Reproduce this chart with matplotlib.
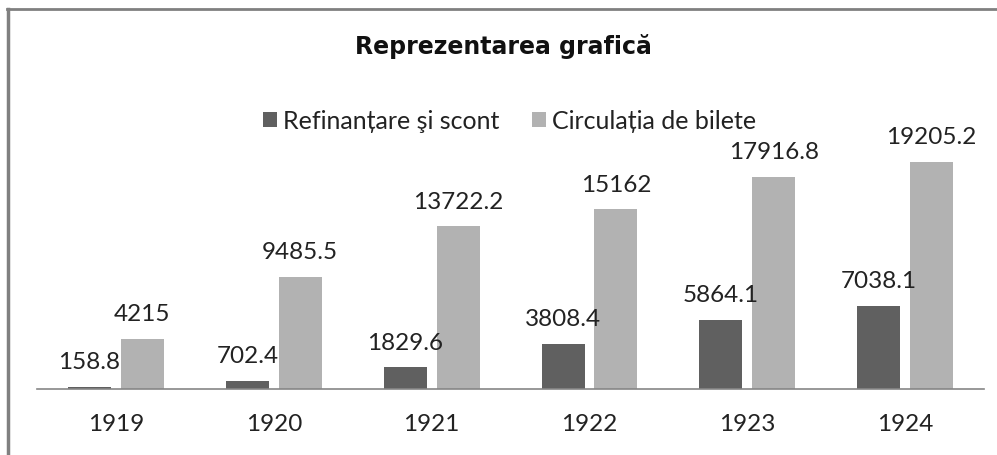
import matplotlib.pyplot as plt
import numpy as np
from matplotlib.lines import Line2D

years = ["1919", "1920", "1921", "1922", "1923", "1924"]
refinantare = [158.8, 702.4, 1829.6, 3808.4, 5864.1, 7038.1]
circulatia = [4215, 9485.5, 13722.2, 15162, 17916.8, 19205.2]
series_names = ["Refinanțare şi scont", "Circulația de bilete"]

plt.rcParams['font.family'] = ['Lato', 'DejaVu Sans']

dark = "#606060"
light = "#b2b2b2"

fig = plt.figure(figsize=(9.97, 4.56), dpi=100)
ax = fig.add_axes([0.0371, 0.1447, 0.95, 0.5195])

x = np.arange(len(years))
w = 0.272
off = (w + 0.063) / 2
b1 = ax.bar(x - off, refinantare, w, color=dark, label=series_names[0])
b2 = ax.bar(x + off, circulatia, w, color=light, label=series_names[1])

for bars, vals in ((b1, refinantare), (b2, circulatia)):
    for rect, v in zip(bars, vals):
        ax.annotate(f"{v:g}", (rect.get_x() + rect.get_width() / 2, v),
                    xytext=(0, 13.5), textcoords="offset points",
                    ha="center", va="baseline", fontsize=17.5, color="#222222")

ax.set_xlim(-0.5, len(years) - 0.5)
ax.set_ylim(0, 20000)
ax.set_xticks(x)
ax.set_xticklabels(years, fontsize=17.5, color="#222222")
ax.tick_params(axis="x", length=0, pad=17)
ax.set_yticks([])
for s in ("top", "right", "left"):
    ax.spines[s].set_visible(False)
ax.spines["bottom"].set_color("#868686")
ax.spines["bottom"].set_linewidth(1.2)

fig.text(0.5045, 0.899, "Reprezentarea grafică", ha="center", va="center",
         fontsize=17, fontweight="bold", color="#111111",
         family=["DejaVu Sans"])

fig.legend(handles=[b1, b2], loc="center", bbox_to_anchor=(0.511, 0.733),
           ncol=2, frameon=False, fontsize=18, handlelength=0.55,
           handleheight=0.55, handletextpad=0.25, columnspacing=1.3,
           labelcolor="#222222")

# chart border (left and top edges visible)
fig.add_artist(Line2D([0.008, 0.008], [0.0, 0.978], color="#808080", lw=2.5,
                      transform=fig.transFigure))
fig.add_artist(Line2D([0.007, 1.0], [0.978, 0.978], color="#808080", lw=2.0,
                      transform=fig.transFigure))

fig.savefig("out.png", dpi=100, facecolor="white")
